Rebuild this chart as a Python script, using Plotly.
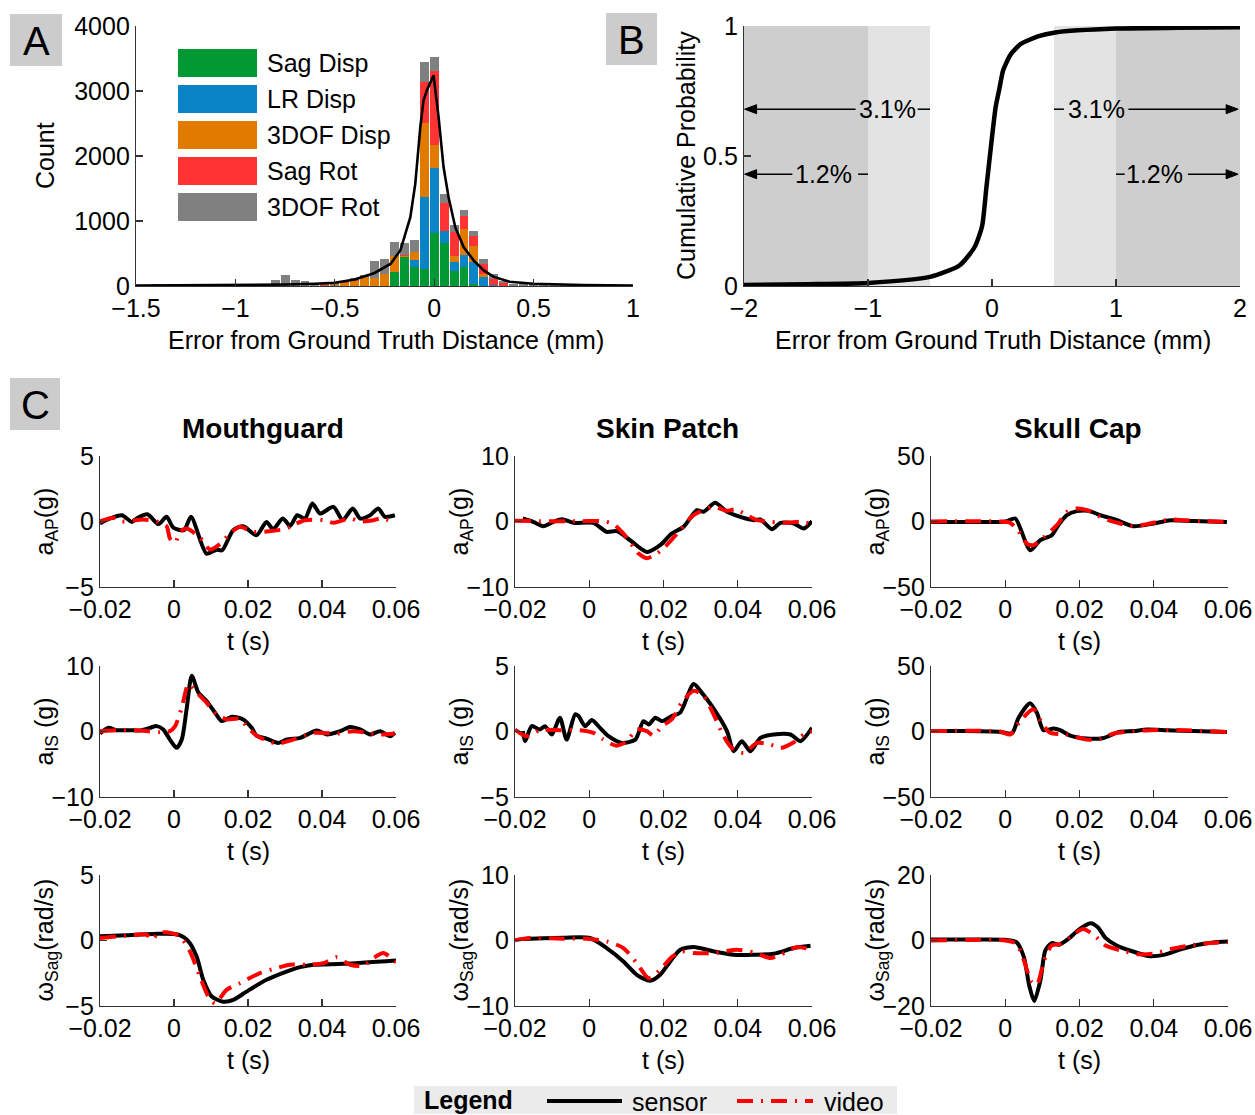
import plotly.graph_objects as go

FONT = "Liberation Sans, Arial, Helvetica, sans-serif"
W, H = 1255, 1115


def px(x):
    return x / W


def py(y):
    return 1 - y / H


# ---------------- Panel A: stacked histogram ----------------
bin_centers = [-1.45, -1.40, -1.35, -1.30, -1.25, -1.20, -1.15, -1.10, -1.05, -1.00,
               -0.95, -0.90, -0.85, -0.80, -0.75, -0.70, -0.65, -0.60, -0.55, -0.50,
               -0.45, -0.40, -0.35, -0.30, -0.25, -0.20, -0.15, -0.10, -0.05, 0.00,
               0.05, 0.10, 0.15, 0.20, 0.25, 0.30, 0.35, 0.40, 0.45, 0.50,
               0.55, 0.60, 0.65, 0.70, 0.75, 0.80, 0.85, 0.90, 0.95]
sag_disp = [0, 0, 0, 0, 0, 0, 0, 0, 0, 0,
            0, 0, 0, 0, 0, 0, 0, 0, 0, 0,
            0, 0, 0, 0, 0, 220, 440, 300, 255, 815,
            655, 235, 285, 30, 0, 0, 0, 0, 0, 0,
            0, 0, 0, 0, 0, 0, 0, 0, 0]
lr_disp = [0, 0, 0, 0, 0, 0, 0, 0, 0, 0,
           0, 0, 0, 0, 0, 0, 0, 0, 0, 0,
           0, 0, 0, 0, 0, 0, 0, 95, 1115, 1005,
           195, 140, 195, 335, 145, 15, 0, 0, 0, 0,
           0, 0, 0, 0, 0, 0, 0, 0, 0]
dof3_disp = [0, 0, 0, 0, 0, 0, 0, 0, 0, 0,
             0, 0, 0, 0, 0, 0, 0, 0, 5, 15,
             40, 80, 140, 125, 190, 245, 25, 135, 1135, 345,
             0, 90, 395, 255, 45, 0, 0, 0, 0, 0,
             0, 0, 0, 0, 0, 0, 0, 0, 0]
sag_rot = [0, 0, 0, 0, 0, 0, 0, 0, 0, 0,
           0, 0, 0, 0, 0, 0, 0, 0, 5, 5,
           15, 10, 0, 5, 0, 0, 15, 0, 635, 1150,
           425, 365, 205, 145, 150, 100, 40, 5, 0, 0,
           0, 0, 0, 0, 0, 0, 0, 0, 0]
dof3_rot = [20, 25, 10, 8, 5, 5, 5, 5, 5, 8,
            8, 10, 15, 100, 175, 100, 80, 50, 30, 35,
            15, 30, 25, 255, 220, 215, 175, 185, 310, 205,
            135, 105, 90, 85, 75, 65, 30, 30, 55, 25,
            15, 20, 15, 10, 12, 10, 8, 6, 5]
hist_names = ["Sag Disp", "LR Disp", "3DOF Disp", "Sag Rot", "3DOF Rot"]
hist_colors = ["#009933", "#0a84c6", "#e07b00", "#ff3333", "#808080"]

fit_x = [-1.5, -1.25, -1.0, -0.75, -0.6, -0.5, -0.4, -0.3, -0.22, -0.17, -0.12, -0.095,
         -0.07, -0.054, -0.037, -0.003, 0.022, 0.047, 0.072, 0.106, 0.148, 0.198, 0.249,
         0.3, 0.38, 0.5, 0.75, 1.0]
fit_y = [5, 8, 12, 22, 35, 50, 100, 200, 340, 550, 1060, 1575,
         2440, 2850, 3010, 3240, 2600, 1830, 1370, 905, 600, 395, 240,
         140, 65, 35, 15, 8]

# ---------------- Panel B: cumulative probability ----------------
cdf_x = [-2.0, -1.5, -1.0, -0.5, -0.26, -0.14, -0.08, -0.045, -0.01, 0.03, 0.06, 0.09,
         0.15, 0.23, 0.37, 0.51, 1.0, 1.5, 2.0]
cdf_y = [0.004, 0.007, 0.012, 0.035, 0.08, 0.15, 0.23, 0.38, 0.53, 0.69, 0.76, 0.83,
         0.89, 0.93, 0.96, 0.975, 0.99, 0.993, 0.995]
outer_pct = "3.1%"
inner_pct = "1.2%"
inner_bound = 0.5
outer_bound = 1.0

# ---------------- Panel C: time histories ----------------
col_titles = ["Mouthguard", "Skin Patch", "Skull Cap"]
row_ytitles = ["a<sub>AP</sub>(g)", "a<sub>IS</sub> (g)", "ω<sub>Sag</sub>(rad/s)"]
t_tick_vals = [-0.02, 0, 0.02, 0.04, 0.06]
t_tick_text = ["−0.02", "0", "0.02", "0.04", "0.06"]
y_limits = [[5, 10, 50], [10, 5, 50], [5, 10, 20]]

# Row 1: a_AP
mg_aap_sensor_t = [-0.0200, -0.0173, -0.0141, -0.0114, -0.0101, -0.0072, -0.0042, -0.0020, -0.0002,
                   0.0027, 0.0046, 0.0088, 0.0115, 0.0130, 0.0160, 0.0187, 0.0223, 0.0250, 0.0268,
                   0.0294, 0.0314, 0.0333, 0.0354, 0.0374, 0.0395, 0.0431, 0.0456, 0.0483, 0.0503,
                   0.0530, 0.0552, 0.0570, 0.0597]
mg_aap_sensor_v = [-0.15, 0.23, 0.48, -0.03, 0.23, 0.55, -0.20, 0.36, -0.46,
                   -0.66, 0.36, -2.45, -2.15, -2.20, -0.66, -0.36, -1.05, -0.03, -0.59,
                   0.23, -0.33, 0.48, 0.23, 1.38, 0.61, 1.12, 0.10, 1.00, 0.23,
                   0.48, 1.00, 0.36, 0.48]
mg_aap_video_t = [-0.0200, -0.0164, -0.0141, -0.0083, -0.0047, -0.0020, -0.0011, 0.0003, 0.0016,
                  0.0034, 0.0070, 0.0097, 0.0124, 0.0151, 0.0178, 0.0214, 0.0268, 0.0304, 0.0327,
                  0.0354, 0.0404, 0.0431, 0.0476, 0.0503, 0.0539, 0.0557, 0.0597]
mg_aap_video_v = [0.00, 0.28, 0.00, 0.15, 0.00, -0.36, -1.30, -1.63, -0.80,
                  -0.54, -1.22, -2.14, -1.73, -0.92, -0.41, -0.79, -0.71, -0.54, -0.20,
                  0.10, 0.10, -0.10, 0.23, 0.00, 0.10, 0.23, 0.00]

sp_aap_sensor_t = [-0.0179, -0.0151, -0.0124, -0.0097, -0.0074, -0.0043, 0.0011, 0.0047, 0.0074,
                   0.0110, 0.0155, 0.0191, 0.0222, 0.0254, 0.0290, 0.0308, 0.0339, 0.0371, 0.0407,
                   0.0443, 0.0461, 0.0492, 0.0515, 0.0551, 0.0578, 0.0600]
sp_aap_sensor_v = [0.46, -0.05, -0.71, -0.05, 0.36, -0.20, -0.20, -1.58, -1.48,
                   -2.86, -4.64, -3.62, -1.84, -0.82, 1.73, 1.48, 2.86, 1.48, 0.71,
                   0.20, 0.31, -1.17, -0.20, -0.31, -1.07, 0.05]
sp_aap_video_t = [-0.0200, -0.0133, -0.0025, 0.0038, 0.0065, 0.0092, 0.0119, 0.0133, 0.0155,
                  0.0182, 0.0204, 0.0245, 0.0281, 0.0335, 0.0371, 0.0393, 0.0425, 0.0452, 0.0488,
                  0.0533, 0.0569, 0.0596]
sp_aap_video_v = [0.10, 0.05, 0.05, 0.05, -0.41, -1.84, -3.88, -4.90, -5.60,
                  -4.90, -3.88, -1.33, 0.97, 2.24, 1.63, 1.84, 0.97, 0.20, -0.05,
                  -0.20, -0.05, -0.31]

sc_aap_sensor_t = [-0.0200, -0.0104, -0.0014, 0.0004, 0.0027, 0.0067, 0.0094, 0.0125, 0.0143,
                   0.0166, 0.0193, 0.0224, 0.0256, 0.0301, 0.0346, 0.0400, 0.0445, 0.0507, 0.0597]
sc_aap_sensor_v = [-0.3, -0.3, -0.3, 0.3, 2.3, -21.9, -14.3, -10.5, -2.8,
                   4.8, 7.9, 8.2, 4.8, 1.0, -3.6, -1.5, 1.0, 0.3, -0.3]
sc_aap_video_t = [-0.0200, -0.0014, 0.0013, 0.0031, 0.0058, 0.0076, 0.0103, 0.0139, 0.0166,
                  0.0193, 0.0220, 0.0256, 0.0283, 0.0346, 0.0382, 0.0445, 0.0480, 0.0525, 0.0597]
sc_aap_video_v = [0.0, 0.0, -1.0, -5.4, -16.8, -18.1, -12.2, -2.8, 7.4,
                  9.9, 8.7, 3.6, 0.5, -3.6, -2.0, 1.5, 1.0, 0.3, -0.3]

# Row 2: a_IS
mg_ais_sensor_t = [-0.0200, -0.0177, -0.0155, -0.0119, -0.0092, -0.0065, -0.0047, -0.0029, -0.0011,
                   0.0007, 0.0021, 0.0034, 0.0048, 0.0066, 0.0088, 0.0111, 0.0129, 0.0156, 0.0187,
                   0.0210, 0.0223, 0.0250, 0.0282, 0.0305, 0.0341, 0.0386, 0.0413, 0.0449, 0.0476,
                   0.0503, 0.0530, 0.0557, 0.0584, 0.0597]
mg_ais_sensor_v = [-0.31, 0.56, 0.20, 0.20, 0.15, 0.56, 0.82, 0.31, -1.23,
                   -2.50, -1.23, 3.38, 8.50, 5.95, 4.67, 2.87, 1.59, 2.26, 1.85,
                   0.56, -0.62, -1.08, -1.74, -1.23, -0.97, 0.15, -0.46, 0.05, 0.67,
                   0.31, -0.46, 0.05, -0.72, -0.20]
mg_ais_video_t = [-0.0200, -0.0146, -0.0092, -0.0038, -0.0011, 0.0003, 0.0021, 0.0039, 0.0061,
                  0.0088, 0.0115, 0.0142, 0.0178, 0.0196, 0.0223, 0.0277, 0.0322, 0.0377, 0.0440,
                  0.0485, 0.0521, 0.0557, 0.0597]
mg_ais_video_v = [0.05, 0.20, 0.15, -0.10, 0.05, 0.82, 3.64, 7.23, 5.95,
                  4.41, 2.62, 1.85, 1.95, 0.82, -0.62, -1.85, -1.23, -0.20, -0.31,
                  0.05, -0.20, -0.46, -0.31]

sp_ais_sensor_t = [-0.0179, -0.0173, -0.0155, -0.0133, -0.0119, -0.0101, -0.0079, -0.0061, -0.0038,
                   -0.0029, -0.0011, 0.0007, 0.0029, 0.0052, 0.0088, 0.0124, 0.0146, 0.0160, 0.0178,
                   0.0196, 0.0222, 0.0245, 0.0281, 0.0303, 0.0330, 0.0371, 0.0389, 0.0411, 0.0434,
                   0.0461, 0.0497, 0.0542, 0.0569, 0.0600]
sp_ais_sensor_v = [0.03, -0.74, 0.41, 0.15, 0.41, -0.23, 1.05, -0.62, 1.31,
                   1.18, 0.41, 0.87, 0.28, -0.36, -0.87, -0.62, 0.79, 0.54, 1.05,
                   0.79, 1.18, 1.44, 3.62, 2.97, 1.95, 0.03, -1.51, -0.74, -1.51,
                   -0.49, -0.23, -0.23, -0.74, 0.28]
sp_ais_video_t = [-0.0200, -0.0169, -0.0133, -0.0079, -0.0025, 0.0011, 0.0038, 0.0074, 0.0101,
                  0.0128, 0.0155, 0.0173, 0.0196, 0.0222, 0.0249, 0.0281, 0.0308, 0.0335, 0.0362,
                  0.0384, 0.0416, 0.0452, 0.0488, 0.0515, 0.0551, 0.0578, 0.0600]
sp_ais_video_v = [0.15, -0.36, 0.10, 0.10, 0.10, -0.10, -0.62, -1.08, -0.74,
                  0.15, 0.03, -0.31, 0.41, 0.92, 2.20, 3.10, 2.72, 1.31, -0.36,
                  -1.26, -1.64, -0.87, -1.00, -1.26, -0.82, -0.23, 0.03]

sc_ais_sensor_t = [-0.0200, -0.0104, -0.0014, 0.0018, 0.0036, 0.0067, 0.0085, 0.0103, 0.0130,
                   0.0148, 0.0175, 0.0220, 0.0265, 0.0305, 0.0346, 0.0382, 0.0436, 0.0507, 0.0597]
sc_ais_sensor_v = [0.3, 0.3, -0.3, -1.5, 10.5, 21.5, 14.4, 1.0, 2.3,
                   1.0, -3.1, -5.4, -4.9, -0.5, 0.3, 1.5, 1.0, 0.3, -0.3]
sc_ais_video_t = [-0.0200, -0.0014, 0.0013, 0.0040, 0.0076, 0.0098, 0.0121, 0.0166, 0.0220,
                  0.0256, 0.0292, 0.0346, 0.0391, 0.0480, 0.0597]
sc_ais_video_v = [0.3, 0.0, -2.3, 8.0, 17.0, 6.7, -1.0, -2.3, -6.2,
                  -5.6, -1.5, 0.3, 1.0, 1.0, -0.5]

# Row 3: omega_Sag
mg_wsag_sensor_t = [-0.0200, -0.0128, -0.0056, 0.0012, 0.0039, 0.0061, 0.0079, 0.0102, 0.0133,
                    0.0160, 0.0196, 0.0250, 0.0304, 0.0341, 0.0377, 0.0458, 0.0600]
mg_wsag_sensor_v = [0.32, 0.40, 0.50, 0.45, -0.06, -1.21, -3.00, -4.28, -4.67,
                    -4.54, -3.90, -3.00, -2.37, -2.03, -1.85, -1.78, -1.52]
mg_wsag_video_t = [-0.0200, -0.0128, -0.0074, -0.0060, -0.0042, -0.0020, 0.0016, 0.0043, 0.0070,
                   0.0093, 0.0111, 0.0142, 0.0178, 0.0232, 0.0277, 0.0313, 0.0359, 0.0404, 0.0440,
                   0.0476, 0.0512, 0.0539, 0.0566, 0.0600]
mg_wsag_video_v = [0.19, 0.37, 0.45, 0.06, 0.58, 0.63, 0.32, -0.83, -2.75,
                   -4.28, -4.80, -3.77, -3.26, -2.49, -2.11, -1.85, -1.85, -1.73, -1.27,
                   -1.85, -1.93, -1.34, -0.96, -1.67]

sp_wsag_sensor_t = [-0.0179, -0.0070, 0.0002, 0.0047, 0.0092, 0.0128, 0.0164, 0.0191, 0.0218,
                    0.0245, 0.0281, 0.0335, 0.0389, 0.0443, 0.0497, 0.0551, 0.0596]
sp_wsag_sensor_v = [0.23, 0.43, 0.38, -1.15, -3.20, -5.24, -6.16, -5.24, -3.20,
                    -1.41, -1.00, -1.66, -2.17, -2.17, -2.02, -1.15, -0.79]
sp_wsag_video_t = [-0.0200, -0.0160, -0.0070, -0.0007, 0.0047, 0.0092, 0.0128, 0.0160, 0.0191,
                   0.0222, 0.0249, 0.0281, 0.0335, 0.0398, 0.0443, 0.0488, 0.0515, 0.0560, 0.0596]
sp_wsag_video_v = [0.03, 0.38, 0.28, 0.28, -0.13, -1.15, -3.45, -5.75, -4.48,
                   -2.53, -1.66, -1.92, -1.92, -1.41, -1.82, -2.69, -2.17, -1.00, -1.41]

sc_wsag_sensor_t = [-0.020, -0.010, 0.000, 0.003, 0.005, 0.0065, 0.0078, 0.0095, 0.0108, 0.0125,
                    0.0145, 0.017, 0.020, 0.023, 0.025, 0.027, 0.030, 0.034, 0.039, 0.043,
                    0.047, 0.052, 0.056, 0.060]
sc_wsag_sensor_v = [0.3, 0.3, 0.2, -0.5, -5.0, -14.0, -18.5, -12.0, -3.0, -0.8,
                    -1.3, 0.5, 3.5, 5.3, 4.0, 0.8, -1.5, -3.2, -4.8, -4.3,
                    -2.8, -1.3, -0.6, -0.3]
sc_wsag_video_t = [-0.020, 0.000, 0.003, 0.005, 0.007, 0.0085, 0.0105, 0.0125, 0.015, 0.018,
                   0.021, 0.024, 0.027, 0.031, 0.036, 0.040, 0.045, 0.050, 0.055, 0.060]
sc_wsag_video_v = [0.0, 0.0, -1.0, -6.0, -12.5, -13.5, -6.0, -1.5, -1.0, 1.5,
                   3.5, 1.5, -1.5, -3.0, -4.2, -4.0, -2.5, -1.5, -0.8, -0.5]

panel_series = [
    [(mg_aap_sensor_t, mg_aap_sensor_v, mg_aap_video_t, mg_aap_video_v),
     (sp_aap_sensor_t, sp_aap_sensor_v, sp_aap_video_t, sp_aap_video_v),
     (sc_aap_sensor_t, sc_aap_sensor_v, sc_aap_video_t, sc_aap_video_v)],
    [(mg_ais_sensor_t, mg_ais_sensor_v, mg_ais_video_t, mg_ais_video_v),
     (sp_ais_sensor_t, sp_ais_sensor_v, sp_ais_video_t, sp_ais_video_v),
     (sc_ais_sensor_t, sc_ais_sensor_v, sc_ais_video_t, sc_ais_video_v)],
    [(mg_wsag_sensor_t, mg_wsag_sensor_v, mg_wsag_video_t, mg_wsag_video_v),
     (sp_wsag_sensor_t, sp_wsag_sensor_v, sp_wsag_video_t, sp_wsag_video_v),
     (sc_wsag_sensor_t, sc_wsag_sensor_v, sc_wsag_video_t, sc_wsag_video_v)],
]

# ---------------- Styles / layout ----------------
AXC = "#333333"
RED_DASH = "16px,8px,2px,8px"


def ax_style(**kw):
    d = dict(showline=True, linecolor=AXC, linewidth=1.2, ticks="inside", ticklen=7,
             tickwidth=1.2, tickcolor=AXC, showgrid=False, zeroline=False, automargin=False,
             tickfont=dict(family=FONT, size=25, color="black"), fixedrange=True)
    d.update(kw)
    return d


fig = go.Figure()
annotations = []
shapes = []


def text(x, y, s, size=25, angle=0, bold=False, xanchor="center", ref=("paper", "paper")):
    if bold:
        s = "<b>" + s + "</b>"
    annotations.append(dict(x=x, y=y, xref=ref[0], yref=ref[1], text=s, showarrow=False,
                            textangle=angle, xanchor=xanchor, yanchor="middle",
                            font=dict(family=FONT, size=size, color="black")))


# ---- Panel A traces
hist_values = [sag_disp, lr_disp, dof3_disp, sag_rot, dof3_rot]
for name, vals, col in zip(hist_names, hist_values, hist_colors):
    fig.add_trace(go.Bar(x=bin_centers, y=vals, width=0.045, name=name,
                         marker=dict(color=col, line=dict(width=0)), xaxis="x", yaxis="y"))
fig.add_trace(go.Scatter(x=fit_x, y=fit_y, mode="lines", line=dict(color="black", width=2.6),
                         xaxis="x", yaxis="y"))

# Panel A legend (drawn as shapes + text)
for i, (name, col) in enumerate(zip(hist_names, hist_colors)):
    top = 49 + i * 36
    shapes.append(dict(type="rect", xref="paper", yref="paper", x0=px(178), x1=px(257),
                       y0=py(top + 28), y1=py(top), fillcolor=col, line=dict(width=0)))
    text(px(265), py(top + 14), name, xanchor="left")

# ---- Panel B traces
for x0, x1, c in [(-2, -outer_bound, "#cecece"), (-outer_bound, -inner_bound, "#e3e3e3"),
                  (inner_bound, outer_bound, "#e3e3e3"), (outer_bound, 2, "#cecece")]:
    shapes.append(dict(type="rect", xref="x2", yref="y2", x0=x0, x1=x1, y0=0, y1=1,
                       fillcolor=c, line=dict(width=0), layer="below"))
fig.add_trace(go.Scatter(x=cdf_x, y=cdf_y, mode="lines",
                         line=dict(color="black", width=4.5, shape="spline", smoothing=0.6),
                         xaxis="x2", yaxis="y2"))

HEAD_DX = 12 / 124.0   # arrow head length in x data units (B axis: 124 px / unit)
HEAD_DY = 4.5 / 260.0  # arrow head half height in y data units (B axis: 260 px / unit)


def b_seg(x0, x1, yv):
    shapes.append(dict(type="line", xref="x2", yref="y2", x0=x0, x1=x1, y0=yv, y1=yv,
                       line=dict(color="black", width=1.5)))


def b_arrow(head, tail, yv):
    d = 1 if tail > head else -1
    b_seg(head + d * HEAD_DX * 0.8, tail, yv)
    path = (f"M {head},{yv} L {head + d * HEAD_DX},{yv + HEAD_DY} "
            f"L {head + d * HEAD_DX},{yv - HEAD_DY} Z")
    shapes.append(dict(type="path", xref="x2", yref="y2", path=path, fillcolor="black",
                       line=dict(color="black", width=1)))


y_out, y_in = 0.68, 0.43
b_arrow(-1.995, -1.10, y_out)
text(-0.845, y_out, outer_pct, size=25, ref=("x2", "y2"))
b_seg(-0.60, -inner_bound, y_out)
b_seg(inner_bound, 0.58, y_out)
text(0.845, y_out, outer_pct, size=25, ref=("x2", "y2"))
b_arrow(1.985, 1.10, y_out)

b_arrow(-1.995, -1.61, y_in)
text(-1.36, y_in, inner_pct, size=25, ref=("x2", "y2"))
b_seg(-1.08, -outer_bound, y_in)
b_seg(outer_bound, 1.07, y_in)
text(1.31, y_in, inner_pct, size=25, ref=("x2", "y2"))
b_arrow(1.985, 1.58, y_in)

# ---- Layout axes for A and B
layout_axes = {}
layout_axes["xaxis"] = ax_style(domain=[px(136), px(633)], range=[-1.5, 1],
                                tickvals=[-1.5, -1, -0.5, 0, 0.5, 1],
                                ticktext=["−1.5", "−1", "−0.5", "0", "0.5", "1"],
                                anchor="y")
layout_axes["yaxis"] = ax_style(domain=[py(286), py(26)], range=[0, 4000],
                                tickvals=[0, 1000, 2000, 3000, 4000], anchor="x")
layout_axes["xaxis2"] = ax_style(domain=[px(744), px(1240)], range=[-2, 2],
                                 tickvals=[-2, -1, 0, 1, 2],
                                 ticktext=["−2", "−1", "0", "1", "2"], anchor="y2")
layout_axes["yaxis2"] = ax_style(domain=[py(286), py(26)], range=[0, 1],
                                 tickvals=[0, 0.5, 1], ticktext=["0", "0.5", "1"], anchor="x2")

text(px(45), py(156), "Count", angle=-90)
text(px(386), py(340), "Error from Ground Truth Distance (mm)")
text(px(686), py(156), "Cumulative Probability", angle=-90)
text(px(993), py(340), "Error from Ground Truth Distance (mm)")

# ---- Panel C
col_x = [(100, 396), (515, 812), (931, 1228)]
row_y = [(456, 587), (666, 797), (875, 1006)]
col_title_x = [263, 667, 1078]
ytitle_x = [45, 460, 876]
for c in range(3):
    text(px(col_title_x[c]), py(428), col_titles[c], size=28, bold=True)

for r in range(3):
    for c in range(3):
        n = 3 + r * 3 + c
        m = y_limits[r][c]
        layout_axes[f"xaxis{n}"] = ax_style(domain=[px(col_x[c][0]), px(col_x[c][1])],
                                            range=[-0.02, 0.06], tickvals=t_tick_vals,
                                            ticktext=t_tick_text, anchor=f"y{n}")
        layout_axes[f"yaxis{n}"] = ax_style(domain=[py(row_y[r][1]), py(row_y[r][0])],
                                            range=[-m, m], tickvals=[-m, 0, m],
                                            ticktext=[f"−{m}", "0", f"{m}"], anchor=f"x{n}")
        st, sv, vt, vv = panel_series[r][c]
        fig.add_trace(go.Scatter(x=st, y=sv, mode="lines", name="sensor",
                                 line=dict(color="black", width=4, shape="spline", smoothing=0.7),
                                 xaxis=f"x{n}", yaxis=f"y{n}"))
        fig.add_trace(go.Scatter(x=vt, y=vv, mode="lines", name="video",
                                 line=dict(color="#ff0000", width=4, dash=RED_DASH,
                                           shape="spline", smoothing=0.7),
                                 xaxis=f"x{n}", yaxis=f"y{n}"))
        text(px((col_x[c][0] + col_x[c][1]) / 2), py(row_y[r][1] + 54), "t (s)")
        text(px(ytitle_x[c]), py((row_y[r][0] + row_y[r][1]) / 2), row_ytitles[r], angle=-90)

# ---- Panel labels
for label, (x0, y0, x1, y1) in [("A", (10, 14, 62, 66)), ("B", (606, 13, 657, 65)),
                                ("C", (10, 378, 60, 430))]:
    shapes.append(dict(type="rect", xref="paper", yref="paper", x0=px(x0), x1=px(x1),
                       y0=py(y1), y1=py(y0), fillcolor="#cccccc", line=dict(width=0)))
    text(px((x0 + x1) / 2), py((y0 + y1) / 2 + 1), label, size=40)

# ---- Bottom legend
shapes.append(dict(type="rect", xref="paper", yref="paper", x0=px(414), x1=px(897),
                   y0=py(1114), y1=py(1086), fillcolor="#ebebeb", line=dict(width=0)))
text(px(422), py(1100), "Legend", size=25, bold=True, xanchor="left")
shapes.append(dict(type="line", xref="paper", yref="paper", x0=px(547), x1=px(622),
                   y0=py(1101), y1=py(1101), line=dict(color="black", width=4)))
text(px(630), py(1102), "sensor", xanchor="left")
shapes.append(dict(type="line", xref="paper", yref="paper", x0=px(737), x1=px(813),
                   y0=py(1101), y1=py(1101), line=dict(color="#ff0000", width=4, dash=RED_DASH)))
text(px(822), py(1102), "video", xanchor="left")

fig.update_layout(width=W, height=H,
                  margin=dict(l=0, r=0, t=0, b=0, pad=0, autoexpand=False),
                  paper_bgcolor="white", plot_bgcolor="rgba(0,0,0,0)", showlegend=False,
                  barmode="stack", bargap=0, font=dict(family=FONT, size=25, color="black"),
                  annotations=annotations, shapes=shapes, **layout_axes)

# remove the default page margin so the 1255x1115 figure fills the window exactly
fig.write_html("out.html",
               config={"displayModeBar": False, "staticPlot": True},
               post_script="document.body.style.margin='0px';"
                           "document.body.style.overflow='hidden';")
